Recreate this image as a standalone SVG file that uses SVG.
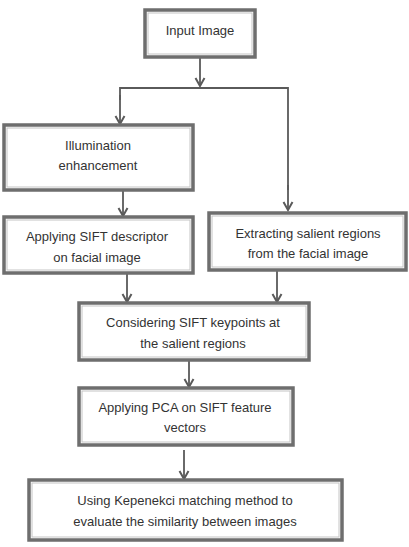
<svg xmlns="http://www.w3.org/2000/svg" width="409" height="547" viewBox="0 0 409 547">
<defs>
<style>
.box{fill:#fff;stroke:#6e6e6e;stroke-width:3.5}
.inner{fill:none;stroke:#c4c4c4;stroke-width:1}
.t{font-family:"Liberation Sans",Arial,sans-serif;font-size:13px;fill:#333;text-anchor:middle}
.c{fill:none;stroke:#5a5a5a;stroke-width:1.8}
</style>
<marker id="ah" markerWidth="12" markerHeight="12" refX="10" refY="6" orient="auto" markerUnits="userSpaceOnUse" viewBox="0 0 12 12">
<path d="M2,1.5 L10,6 L2,10.5" fill="none" stroke="#5a5a5a" stroke-width="2"/>
</marker>
</defs>
<rect width="409" height="547" fill="#fff"/>
<g id="connectors">
<line class="c" x1="200" y1="57" x2="200" y2="86" marker-end="url(#ah)"/>
<polyline class="c" points="120,100 120,88 288,88 288,190"/>
<line class="c" x1="120" y1="95" x2="120" y2="124" marker-end="url(#ah)"/>
<line class="c" x1="288" y1="185" x2="288" y2="210" marker-end="url(#ah)"/>
<line class="c" x1="123" y1="190" x2="123" y2="216" marker-end="url(#ah)"/>
<line class="c" x1="127" y1="273" x2="127" y2="302" marker-end="url(#ah)"/>
<line class="c" x1="277" y1="271" x2="277" y2="302" marker-end="url(#ah)"/>
<line class="c" x1="189" y1="360" x2="189" y2="387" marker-end="url(#ah)"/>
<line class="c" x1="184" y1="450" x2="184" y2="479" marker-end="url(#ah)"/>
</g>
<g id="n1">
<rect class="box" x="145" y="10" width="110" height="47"/>
<rect class="inner" x="148" y="13" width="104" height="41"/>
<text class="t" x="200" y="35">Input Image</text>
</g>
<g id="n2">
<rect class="box" x="4" y="125" width="189" height="65"/>
<rect class="inner" x="7" y="128" width="183" height="59"/>
<text class="t" x="98" y="150">Illumination</text>
<text class="t" x="98" y="170">enhancement</text>
</g>
<g id="n3">
<rect class="box" x="4" y="217" width="189" height="56"/>
<rect class="inner" x="7" y="220" width="183" height="50"/>
<text class="t" x="97" y="241">Applying SIFT descriptor</text>
<text class="t" x="97" y="262">on facial image</text>
</g>
<g id="n4">
<rect class="box" x="209" y="213" width="197" height="57"/>
<rect class="inner" x="212" y="216" width="191" height="51"/>
<text class="t" x="308" y="238">Extracting salient regions</text>
<text class="t" x="308" y="258">from the facial image</text>
</g>
<g id="n5">
<rect class="box" x="79" y="303" width="230" height="57"/>
<rect class="inner" x="82" y="306" width="224" height="51"/>
<text class="t" x="193" y="327">Considering SIFT keypoints at</text>
<text class="t" x="193" y="348">the salient regions</text>
</g>
<g id="n6">
<rect class="box" x="79" y="388" width="214" height="57"/>
<rect class="inner" x="82" y="391" width="208" height="51"/>
<text class="t" x="185" y="412">Applying PCA on SIFT feature</text>
<text class="t" x="185" y="432">vectors</text>
</g>
<g id="n7">
<rect class="box" x="29" y="480" width="313" height="60"/>
<rect class="inner" x="32" y="483" width="307" height="54"/>
<text class="t" x="185" y="505">Using Kepenekci matching method to</text>
<text class="t" x="185" y="526">evaluate the similarity between images</text>
</g>
</svg>
